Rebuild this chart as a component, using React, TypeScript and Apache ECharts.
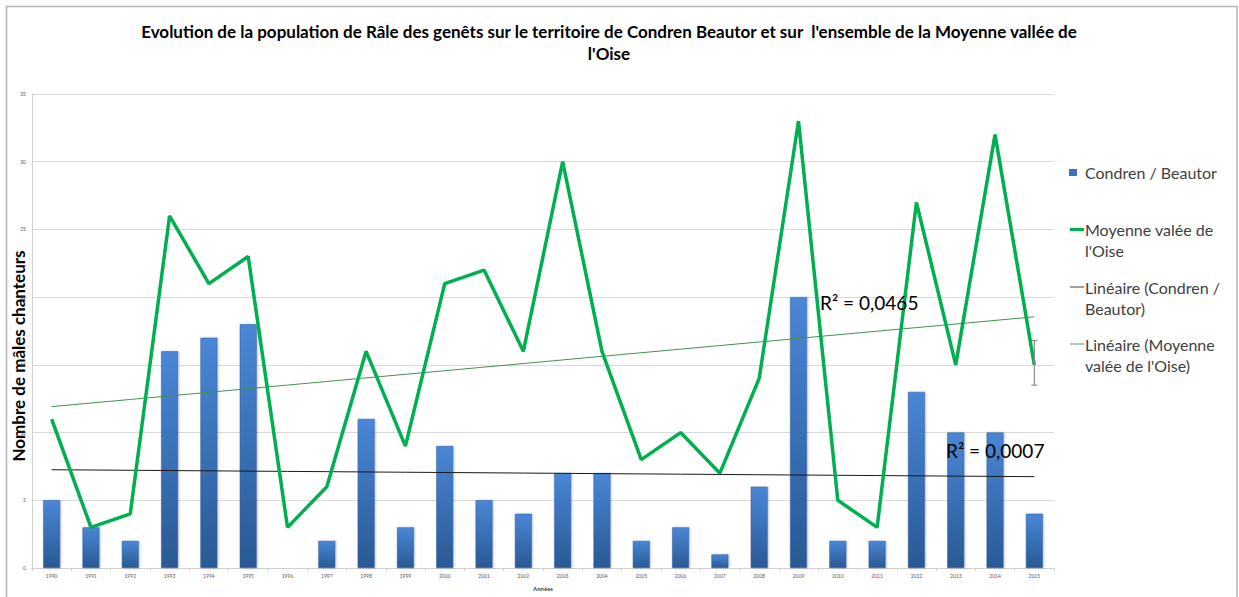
import React, { useEffect, useRef } from "react";
import * as echarts from "echarts";

const titleText =
  "Evolution de la population de Râle des genêts sur le territoire de Condren Beautor et sur  l'ensemble de la Moyenne vallée de\nl'Oise";
const years = [
  "1990", "1991", "1992", "1993", "1994", "1995", "1996", "1997", "1998", "1999",
  "2000", "2001", "2002", "2003", "2004", "2005", "2006", "2007", "2008", "2009",
  "2010", "2011", "2012", "2013", "2014", "2015",
];
const condren = [5, 3, 2, 16, 17, 18, 0, 2, 11, 3, 9, 5, 4, 7, 7, 2, 3, 1, 6, 20, 2, 2, 13, 10, 10, 4];
const oise = [11, 3, 4, 26, 21, 23, 3, 6, 16, 9, 21, 22, 16, 30, 16, 8, 10, 7, 14, 33, 5, 3, 27, 15, 32, 15];
const yMin = 0;
const yMax = 35;
const yInterval = 5;
const errorBars = [{ year: "2015", low: 13.5, high: 16.8 }];
const r2Oise = "R² = 0,0465";
const r2Condren = "R² = 0,0007";
const seriesNames = [
  "Condren / Beautor",
  "Moyenne valée de l'Oise",
  "Linéaire (Condren / Beautor)",
  "Linéaire (Moyenne valée de l'Oise)",
];
const legendLines = [
  ["Condren / Beautor"],
  ["Moyenne valée de", "l'Oise"],
  ["Linéaire (Condren /", "Beautor)"],
  ["Linéaire (Moyenne", "valée de l'Oise)"],
];
const yAxisTitle = "Nombre de mâles chanteurs";
const xAxisTitle = "Années";

function linearTrend(values: number[]): number[] {
  const n = values.length;
  const xs = values.map((_, i) => i + 1);
  const mx = xs.reduce((a, b) => a + b, 0) / n;
  const my = values.reduce((a, b) => a + b, 0) / n;
  let sxy = 0;
  let sxx = 0;
  for (let i = 0; i < n; i++) {
    sxy += (xs[i] - mx) * (values[i] - my);
    sxx += (xs[i] - mx) * (xs[i] - mx);
  }
  const b = sxy / sxx;
  const a = my - b * mx;
  return xs.map((x) => +(a + b * x).toFixed(3));
}

const FONT = "Lato, 'Open Sans', sans-serif";

export default function App() {
  const ref = useRef<HTMLDivElement>(null);

  useEffect(() => {
    if (!ref.current) return;
    const chart = echarts.init(ref.current, undefined, { renderer: "svg" });

    const legendX = 1069;
    const legendTextX = 1085;
    const legendRowY = [172, 229, 287, 344];
    const legendIcons: any[] = [
      { type: "rect", shape: { x: legendX, y: 169, width: 8, height: 7 }, style: { fill: "#3a72bf" } },
      { type: "rect", shape: { x: legendX + 1, y: 228, width: 14, height: 3 }, style: { fill: "#00b050" } },
      { type: "rect", shape: { x: legendX + 1, y: 286.5, width: 14, height: 1 }, style: { fill: "#404040" } },
      { type: "rect", shape: { x: legendX + 1, y: 343.5, width: 14, height: 1 }, style: { fill: "#4e9a62" } },
    ];
    const legendTexts = legendLines.map((lines, i) => ({
      type: "text",
      x: legendTextX,
      y: legendRowY[i] - 10.5,
      style: {
        text: lines.join("\n"),
        font: `16px ${FONT}`,
        fill: "#404040",
        lineHeight: 21,
        textVerticalAlign: "top",
      },
    }));

    const option: any = {
      animation: false,
      backgroundColor: "#ffffff",
      title: {
        text: titleText,
        left: 604,
        top: 15,
        textAlign: "center",
        textStyle: {
          fontFamily: FONT,
          fontWeight: "bold",
          fontSize: 17,
          lineHeight: 22,
          color: "#000000",
        },
      },
      grid: { left: 32, right: 185, top: 94, bottom: 29, containLabel: false, outerBoundsMode: "none" },
      xAxis: {
        type: "category",
        data: years,
        boundaryGap: true,
        name: xAxisTitle,
        nameLocation: "middle",
        nameGap: 17,
        nameTextStyle: { fontFamily: FONT, fontSize: 6, fontWeight: "bold", color: "#404040" },
        axisLine: { lineStyle: { color: "#d0d0d0", width: 1 } },
        axisTick: { show: true, alignWithLabel: false, length: 3, lineStyle: { color: "#d0d0d0" } },
        axisLabel: { fontFamily: FONT, fontSize: 5, color: "#595959", margin: 5 },
      },
      yAxis: {
        type: "value",
        min: yMin,
        max: yMax,
        interval: yInterval,
        axisLine: { show: true, lineStyle: { color: "#d0d0d0" } },
        axisTick: { show: false },
        axisLabel: { fontFamily: FONT, fontSize: 5, color: "#595959", margin: 6 },
        splitLine: { lineStyle: { color: "#d9d9d9", width: 1 } },
      },
      series: [
        {
          name: seriesNames[0],
          type: "bar",
          data: condren,
          barWidth: "43%",
          itemStyle: {
            color: new echarts.graphic.LinearGradient(0, 0, 0, 1, [
              { offset: 0, color: "#4a87d6" },
              { offset: 1, color: "#2a5994" },
            ]),
            borderColor: "#2f5f9e",
            borderWidth: 0.5,
            shadowColor: "rgba(0,0,0,0.25)",
            shadowBlur: 2,
            shadowOffsetX: 1,
          },
          z: 2,
        },
        {
          name: seriesNames[1],
          type: "line",
          data: oise,
          symbol: "none",
          lineStyle: { color: "#00b050", width: 3.5 },
          itemStyle: { color: "#00b050" },
          z: 5,
        },
        {
          name: seriesNames[2],
          type: "line",
          data: linearTrend(condren),
          symbol: "none",
          lineStyle: { color: "#1a1a1a", width: 1 },
          z: 4,
        },
        {
          name: seriesNames[3],
          type: "line",
          data: linearTrend(oise),
          symbol: "none",
          lineStyle: { color: "#3f9254", width: 1 },
          z: 4,
        },
        {
          name: "Erreur",
          type: "custom",
          data: errorBars.map((e) => [years.indexOf(e.year), e.low, e.high]),
          encode: { x: 0, y: [1, 2] },
          z: 6,
          renderItem: (params: any, api: any) => {
            const idx = api.value(0);
            const lo = api.coord([idx, api.value(1)]);
            const hi = api.coord([idx, api.value(2)]);
            const cap = 3;
            const st = { stroke: "#8c8c8c", lineWidth: 1.2 };
            return {
              type: "group",
              children: [
                { type: "line", shape: { x1: lo[0], y1: lo[1], x2: hi[0], y2: hi[1] }, style: st },
                { type: "line", shape: { x1: lo[0] - cap, y1: lo[1], x2: lo[0] + cap, y2: lo[1] }, style: st },
                { type: "line", shape: { x1: hi[0] - cap, y1: hi[1], x2: hi[0] + cap, y2: hi[1] }, style: st },
              ],
            };
          },
        },
      ],
      graphic: [
        {
          type: "rect",
          shape: { x: 6.5, y: 6.5, width: 1230.5, height: 700 },
          style: { fill: "none", stroke: "#b3b3b3", lineWidth: 1.5 },
          silent: true,
        },
        {
          type: "text",
          x: 18,
          y: 356,
          rotation: Math.PI / 2,
          style: {
            text: yAxisTitle,
            font: `bold 17px ${FONT}`,
            fill: "#000000",
            textAlign: "center",
            textVerticalAlign: "middle",
          },
        },
        {
          type: "text",
          x: 820,
          y: 302,
          style: { text: r2Oise, font: `19px ${FONT}`, fill: "#000000", textVerticalAlign: "middle" },
          z: 100,
        },
        {
          type: "text",
          x: 946,
          y: 450,
          style: { text: r2Condren, font: `19px ${FONT}`, fill: "#000000", textVerticalAlign: "middle" },
          z: 100,
        },
        ...legendIcons,
        ...legendTexts,
      ],
    };

    chart.setOption(option);
    return () => chart.dispose();
  }, []);

  return (
    <div
      ref={ref}
      style={{ position: "absolute", left: 0, top: 0, width: 1239, height: 597, background: "#fff" }}
    />
  );
}
